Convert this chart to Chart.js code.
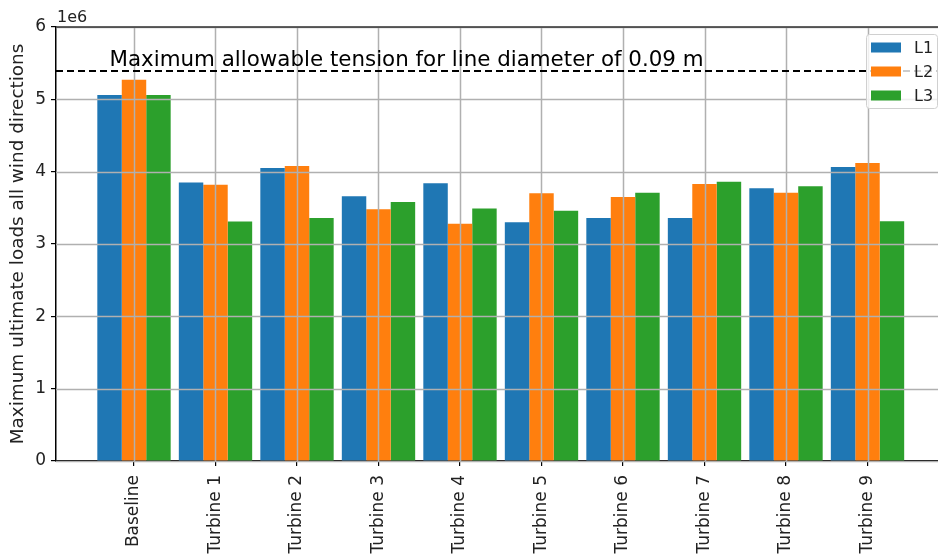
<!doctype html>
<html lang="en">
    <head>
        <meta charset="UTF-8" />
        <title>Maximum ultimate loads</title>
        <script src="https://cdn.jsdelivr.net/npm/chart.js"></script>
        <style>
            body {
                margin: 0;
                background: #fff;
            }
            #wrap {
                width: 938px;
                height: 556px;
            }
        </style>
    </head>
    <body>
        <div id="wrap">
            <canvas id="loadsChart" width="938" height="556"></canvas>
        </div>

        <script>
            // values in units of 1e6
            const categories = ["Baseline", "Turbine 1", "Turbine 2", "Turbine 3", "Turbine 4",
                "Turbine 5", "Turbine 6", "Turbine 7", "Turbine 8", "Turbine 9"];
            const l1 = [5.06, 3.85, 4.05, 3.66, 3.84, 3.30, 3.36, 3.36, 3.77, 4.065];
            const l2 = [5.27, 3.82, 4.08, 3.48, 3.28, 3.70, 3.65, 3.83, 3.71, 4.12];
            const l3 = [5.06, 3.31, 3.36, 3.58, 3.49, 3.46, 3.71, 3.86, 3.80, 3.315];
            const yTicks = [0, 1, 2, 3, 4, 5, 6];
            const limitValue = 5.39;
            const limitText = "Maximum allowable tension for line diameter of 0.09 m";
            const limitTextX = -0.3;
            const limitTextY = 5.46;

            const FONT = "DejaVu Sans";

            function points(arr) {
                return arr.map((v, i) => ({ x: i, y: v }));
            }

            const overlay = {
                id: "overlay",
                afterDatasetsDraw(chart) {
                    const ctx = chart.ctx;
                    const xs = chart.scales.x;
                    const ys = chart.scales.y;
                    const a = chart.chartArea;
                    ctx.save();

                    // grid on top of bars, like matplotlib
                    ctx.strokeStyle = "#b0b0b0";
                    ctx.lineWidth = 1.5;
                    categories.forEach((c, i) => {
                        const px = Math.round(xs.getPixelForValue(i)) + 0.5;
                        ctx.beginPath();
                        ctx.moveTo(px, a.top);
                        ctx.lineTo(px, a.bottom);
                        ctx.stroke();
                    });
                    yTicks.forEach((t) => {
                        const py = Math.round(ys.getPixelForValue(t)) + 0.5;
                        ctx.beginPath();
                        ctx.moveTo(a.left, py);
                        ctx.lineTo(a.right, py);
                        ctx.stroke();
                    });

                    // limit line
                    const ly = ys.getPixelForValue(limitValue);
                    ctx.strokeStyle = "#000";
                    ctx.lineWidth = 2;
                    ctx.setLineDash([7, 4]);
                    ctx.beginPath();
                    ctx.moveTo(a.left, ly);
                    ctx.lineTo(a.right, ly);
                    ctx.stroke();
                    ctx.setLineDash([]);

                    ctx.fillStyle = "#000";
                    ctx.font = "21.4px '" + FONT + "'";
                    ctx.textBaseline = "alphabetic";
                    ctx.textAlign = "left";
                    ctx.fillText(limitText, xs.getPixelForValue(limitTextX), ys.getPixelForValue(limitTextY));

                    // top spine
                    ctx.strokeStyle = "#333";
                    ctx.lineWidth = 1.5;
                    ctx.beginPath();
                    ctx.moveTo(a.left, a.top);
                    ctx.lineTo(a.right, a.top);
                    ctx.stroke();

                    // offset text
                    ctx.font = "16px '" + FONT + "'";
                    ctx.fillStyle = "#222";
                    ctx.fillText("1e6", a.left + 1, a.top - 5);

                    // legend
                    const lx = 866, ly0 = 34, lw = 71, lh = 74;
                    ctx.fillStyle = "rgba(255,255,255,0.8)";
                    ctx.strokeStyle = "#d0d0d0";
                    ctx.lineWidth = 1;
                    ctx.beginPath();
                    ctx.roundRect(lx + 0.5, ly0 + 0.5, lw, lh, 3);
                    ctx.fill();
                    ctx.stroke();
                    ctx.font = "16px '" + FONT + "'";
                    ctx.textBaseline = "middle";
                    chart.data.datasets.forEach((ds, i) => {
                        const cy = ly0 + 13.5 + i * 24;
                        ctx.fillStyle = ds.backgroundColor;
                        ctx.fillRect(lx + 5, cy - 5, 30, 10);
                        ctx.fillStyle = "#222";
                        ctx.fillText(ds.label, lx + 48, cy + 1);
                    });

                    ctx.restore();
                },
            };

            const ctx = document.getElementById("loadsChart").getContext("2d");
            new Chart(ctx, {
                type: "bar",
                data: {
                    datasets: [
                        { label: "L1", data: points(l1), backgroundColor: "#1f77b4" },
                        { label: "L2", data: points(l2), backgroundColor: "#ff7f0e" },
                        { label: "L3", data: points(l3), backgroundColor: "#2ca02c" },
                    ],
                },
                options: {
                    responsive: false,
                    animation: false,
                    datasets: {
                        bar: {
                            categoryPercentage: 0.9,
                            barPercentage: 1.0,
                            borderWidth: 0,
                        },
                    },
                    layout: { padding: { top: 27, right: 0, left: 0, bottom: 0 } },
                    plugins: {
                        legend: { display: false },
                        tooltip: { enabled: false },
                    },
                    scales: {
                        x: {
                            type: "linear",
                            min: -0.957,
                            max: 9.865,
                            offset: false,
                            afterBuildTicks: (s) => {
                                s.ticks = categories.map((c, i) => ({ value: i }));
                            },
                            afterFit: (s) => {
                                s.height = 95;
                            },
                            ticks: {
                                minRotation: 90,
                                maxRotation: 90,
                                autoSkip: false,
                                padding: 9,
                                color: "#222",
                                font: { family: FONT, size: 17 },
                                callback: (v) => categories[v],
                            },
                            grid: {
                                offset: false,
                                drawOnChartArea: false,
                                tickLength: 5,
                                color: "#000",
                                lineWidth: 1.2,
                            },
                            border: { color: "#000", width: 1.5 },
                        },
                        y: {
                            min: 0,
                            max: 6,
                            afterBuildTicks: (s) => {
                                s.ticks = yTicks.map((t) => ({ value: t }));
                            },
                            afterFit: (s) => {
                                s.width = 56;
                            },
                            ticks: {
                                padding: 5,
                                color: "#222",
                                font: { family: FONT, size: 17 },
                            },
                            grid: {
                                drawOnChartArea: false,
                                tickLength: 5,
                                color: "#000",
                                lineWidth: 1.2,
                            },
                            border: { color: "#000", width: 1.5 },
                            title: {
                                display: true,
                                text: "Maximum ultimate loads all wind directions",
                                color: "#222",
                                padding: { top: 7, bottom: 0 },
                                font: { family: FONT, size: 18.4 },
                            },
                        },
                    },
                },
                plugins: [overlay],
            });
        </script>
    </body>
</html>
